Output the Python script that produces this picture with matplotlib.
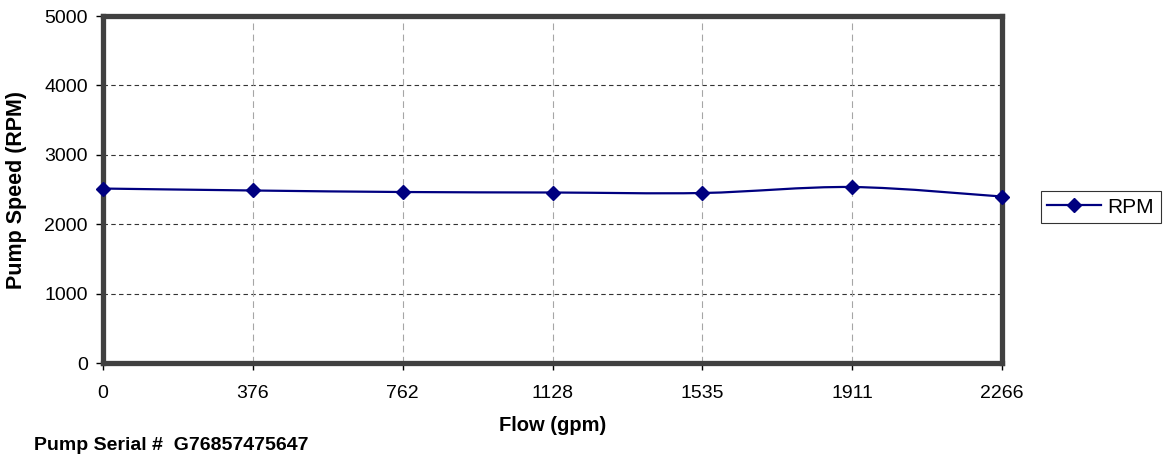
import matplotlib
matplotlib.use("Agg")
import matplotlib.pyplot as plt
from matplotlib.path import Path
from matplotlib.patches import PathPatch
from matplotlib.lines import Line2D

plt.rcParams["font.family"] = ["Liberation Sans", "DejaVu Sans"]

flow_labels = ["0", "376", "762", "1128", "1535", "1911", "2266"]
rpm = [2514, 2486, 2464, 2457, 2450, 2536, 2399]

NAVY = "#000080"
FRAME = "#404040"

fig = plt.figure(figsize=(11.67, 4.58), dpi=100)
ax = fig.add_axes([0.0883, 0.2074, 0.7703, 0.7576])

xs = list(range(len(rpm)))

# smoothed line (Excel style) drawn as Bezier segments through the points
verts = [(xs[0], rpm[0])]
codes = [Path.MOVETO]
t = 1 / 6
for i in range(len(xs) - 1):
    x0, y0 = xs[max(i - 1, 0)], rpm[max(i - 1, 0)]
    x1, y1 = xs[i], rpm[i]
    x2, y2 = xs[i + 1], rpm[i + 1]
    x3, y3 = xs[min(i + 2, len(xs) - 1)], rpm[min(i + 2, len(xs) - 1)]
    verts += [(x1 + (x2 - x0) * t, y1 + (y2 - y0) * t),
              (x2 - (x3 - x1) * t, y2 - (y3 - y1) * t),
              (x2, y2)]
    codes += [Path.CURVE4] * 3
ax.add_patch(PathPatch(Path(verts, codes), facecolor="none", edgecolor=NAVY,
                       linewidth=1.6, zorder=3, clip_on=False))
ax.plot(xs, rpm, linestyle="none", marker="D", markersize=7, color=NAVY,
        zorder=6, clip_on=False)

ax.set_xlim(0, len(xs) - 1)
ax.set_ylim(0, 5000)
ax.set_xticks(xs)
ax.set_xticklabels(flow_labels)
ax.set_yticks(range(0, 5001, 1000))
ax.tick_params(axis="both", labelsize=14, direction="out", length=5,
               width=1, color="black")
ax.tick_params(axis="x", pad=11)
ax.tick_params(axis="y", pad=6)

for y in range(1000, 5000, 1000):
    ax.axhline(y, color="#333333", linestyle=(0, (4, 3)), linewidth=0.8, zorder=1)
for x in xs[1:-1]:
    ax.axvline(x, color="#a6a6a6", linestyle=(0, (6, 4)), linewidth=0.8, zorder=1)

for s in ax.spines.values():
    s.set_color(FRAME)
    s.set_linewidth(3.8)
    s.set_zorder(5)

ax.set_ylabel("Pump Speed (RPM)", fontsize=15.5, fontweight="bold", va="center")
ax.yaxis.set_label_coords(-0.096, 0.5)
ax.set_xlabel("Flow (gpm)", fontsize=14.5, fontweight="bold", va="center")
ax.xaxis.set_label_coords(0.5, -0.18)

handle = Line2D([], [], color=NAVY, marker="D", markersize=7, linewidth=1.6)
leg = fig.legend([handle], ["RPM"], loc="center left",
                 bbox_to_anchor=(0.892, 0.548), fontsize=15, frameon=True,
                 fancybox=False, handlelength=2.6, borderpad=0.3,
                 handletextpad=0.3, borderaxespad=0)
leg.get_frame().set_edgecolor("black")
leg.get_frame().set_linewidth(0.8)

fig.text(0.029, 0.028, "Pump Serial #  G76857475647", fontsize=14,
         fontweight="bold", va="center")

fig.savefig("out.png", dpi=100)
plt.close(fig)
